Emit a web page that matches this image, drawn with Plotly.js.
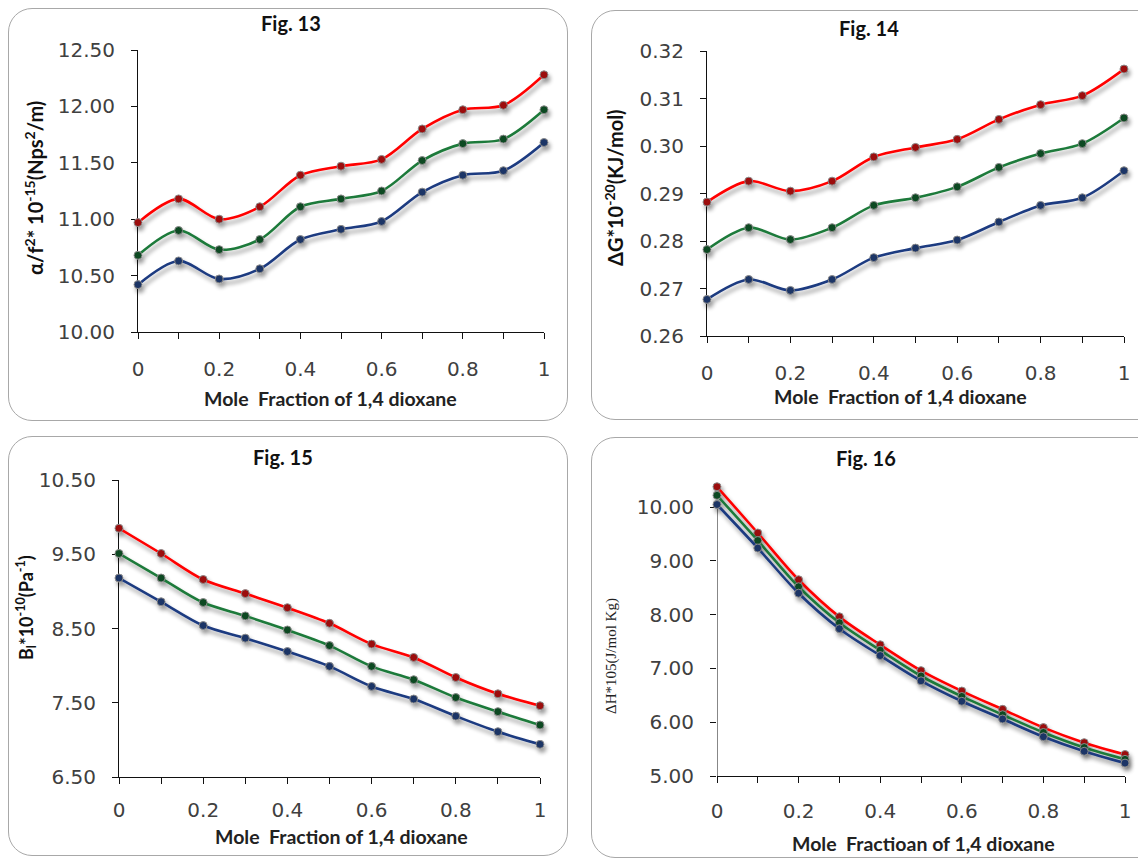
<!DOCTYPE html>
<html>
<head>
<meta charset="utf-8">
<script src="https://cdn.plot.ly/plotly-3.0.1.min.js"></script>
<style>
  html, body { margin:0; padding:0; background:#fff; width:1138px; height:859px; overflow:hidden; }
  .panel { position:absolute; border:1.5px solid #a8a8a8; border-radius:24px; box-sizing:border-box; background:#fff; }
  #plot { position:absolute; left:0; top:0; width:1138px; height:859px; }
  #plot .scatterlayer .trace { filter: url(#sh); }
</style>
</head>
<body>
<svg width="0" height="0" style="position:absolute">
  <defs>
    <filter id="sh" x="-5%" y="-10%" width="115%" height="140%">
      <feGaussianBlur in="SourceAlpha" stdDeviation="2.2"/>
      <feOffset dx="2" dy="4" result="o"/>
      <feComponentTransfer><feFuncA type="linear" slope="0.4"/></feComponentTransfer>
      <feMerge><feMergeNode/><feMergeNode in="SourceGraphic"/></feMerge>
    </filter>
  </defs>
</svg>
<div class="panel" style="left:8px;top:8px;width:560px;height:413px;"></div>
<div class="panel" style="left:591px;top:10px;width:580px;height:410px;"></div>
<div class="panel" style="left:8px;top:436px;width:560px;height:420px;"></div>
<div class="panel" style="left:591px;top:437px;width:580px;height:421px;"></div>
<div id="plot"></div>
<script>
// ---- data ----
const moleFraction = [0, 0.1, 0.2, 0.3, 0.4, 0.5, 0.6, 0.7, 0.8, 0.9, 1];

// Fig. 13  alpha/f^2 * 10^-15
const fig13Red   = [10.97, 11.18, 11.00, 11.11, 11.39, 11.47, 11.53, 11.80, 11.97, 12.01, 12.28];
const fig13Green = [10.68, 10.90, 10.73, 10.82, 11.11, 11.18, 11.25, 11.52, 11.67, 11.71, 11.97];
const fig13Blue  = [10.42, 10.63, 10.47, 10.56, 10.82, 10.91, 10.98, 11.24, 11.39, 11.43, 11.68];

// Fig. 14  dG * 10^-20
const fig14Red   = [0.2882, 0.2926, 0.2905, 0.2926, 0.2977, 0.2997, 0.3014, 0.3056, 0.3087, 0.3106, 0.3162];
const fig14Green = [0.2782, 0.2828, 0.2803, 0.2828, 0.2875, 0.2891, 0.2914, 0.2955, 0.2984, 0.3005, 0.3059];
const fig14Blue  = [0.2677, 0.2719, 0.2696, 0.2719, 0.2765, 0.2785, 0.2802, 0.2840, 0.2875, 0.2891, 0.2948];

// Fig. 15  B * 10^-10
const fig15Red   = [9.85, 9.51, 9.16, 8.97, 8.78, 8.57, 8.29, 8.11, 7.84, 7.62, 7.46];
const fig15Green = [9.51, 9.18, 8.85, 8.67, 8.48, 8.27, 7.99, 7.81, 7.57, 7.38, 7.20];
const fig15Blue  = [9.18, 8.86, 8.54, 8.37, 8.19, 7.99, 7.72, 7.55, 7.32, 7.11, 6.94];

// Fig. 16  dH * 10^5
const fig16Red   = [10.38, 9.52, 8.65, 7.96, 7.44, 6.96, 6.58, 6.24, 5.90, 5.62, 5.40];
const fig16Green = [10.22, 9.38, 8.52, 7.85, 7.34, 6.86, 6.48, 6.14, 5.81, 5.53, 5.31];
const fig16Blue  = [10.05, 9.24, 8.40, 7.74, 7.24, 6.77, 6.39, 6.06, 5.73, 5.46, 5.24];

const xTickVals = [0, 0.2, 0.4, 0.6, 0.8, 1];
const xTickText = ['0', '0.2', '0.4', '0.6', '0.8', '1'];
const fig13Ticks = [10.00, 10.50, 11.00, 11.50, 12.00, 12.50];
const fig14Ticks = [0.26, 0.27, 0.28, 0.29, 0.30, 0.31, 0.32];
const fig15Ticks = [6.50, 7.50, 8.50, 9.50, 10.50];
const fig16Ticks = [5.00, 6.00, 7.00, 8.00, 9.00, 10.00];

// ---- styling ----
const W = 1138, H = 859;
const px = (x) => x / W;
const py = (y) => 1 - y / H;

const styles = {
  red:   {line:'#ff0000', marker:'#9c0a0a'},
  green: {line:'#1f7a3a', marker:'#0f4a22'},
  blue:  {line:'#1c3a80', marker:'#1d3566'}
};

function series(y, c, n) {
  return {
    x: moleFraction, y: y, xaxis: 'x' + n, yaxis: 'y' + n,
    type: 'scatter', mode: 'lines+markers', cliponaxis: false, showlegend: false,
    line: {color: styles[c].line, width: 2.6, shape: 'spline', smoothing: 0.9},
    marker: {color: styles[c].marker, size: 8, line: {color: '#8a8a8a', width: 1}},
    hoverinfo: 'x+y'
  };
}

const data = [
  series(fig13Red, 'red', ''), series(fig13Green, 'green', ''), series(fig13Blue, 'blue', ''),
  series(fig14Red, 'red', 2), series(fig14Green, 'green', 2), series(fig14Blue, 'blue', 2),
  series(fig15Red, 'red', 3), series(fig15Green, 'green', 3), series(fig15Blue, 'blue', 3),
  series(fig16Red, 'red', 4), series(fig16Green, 'green', 4), series(fig16Blue, 'blue', 4)
];

const tickFont = {family: 'DejaVu Sans, Verdana, sans-serif', size: 20, color: '#404040'};

function xAxis(domain, anchor, standoff) {
  return {
    domain: domain, anchor: anchor, range: [0, 1],
    tickvals: xTickVals, ticktext: xTickText,
    showgrid: false, zeroline: false, showline: true, linecolor: '#111', linewidth: 1,
    ticks: 'outside', ticklen: 6, tickcolor: '#111', tickwidth: 1,
    minor: {dtick: 0.1, tick0: 0, ticks: 'outside', ticklen: 6, tickcolor: '#111', tickwidth: 1, showgrid: false},
    tickfont: tickFont, ticklabelstandoff: standoff, layer: 'below traces', fixedrange: true
  };
}
function yAxis(domain, anchor, range, tickvals, showline) {
  return {
    domain: domain, anchor: anchor, range: range,
    tickvals: tickvals, tickformat: '.2f',
    showgrid: false, zeroline: false, showline: showline, linecolor: '#111', linewidth: 1,
    ticks: 'outside', ticklen: 6, tickcolor: '#111', tickwidth: 1,
    tickfont: tickFont, ticklabelstandoff: 12, layer: 'below traces', fixedrange: true
  };
}

const titleFont = {family: 'Lato, Open Sans, sans-serif', size: 20, color: '#111', weight: 'bold'};
const xtFont = {family: 'Lato, Open Sans, sans-serif', size: 19.5, color: '#222', weight: 'bold'};

function ann(text, x, y, font, angle) {
  return {text: text, x: px(x), y: py(y), xref: 'paper', yref: 'paper',
          xanchor: 'center', yanchor: 'middle', showarrow: false, font: font, textangle: angle || 0};
}

const layout = {
  width: W, height: H,
  margin: {l: 0, r: 0, t: 0, b: 0},
  paper_bgcolor: 'rgba(0,0,0,0)', plot_bgcolor: 'rgba(0,0,0,0)',
  showlegend: false,
  xaxis:  xAxis([px(138), px(544)], 'y', 13),
  yaxis:  yAxis([py(332), py(50)], 'x', [10, 12.5], fig13Ticks, true),
  xaxis2: xAxis([px(707), px(1124)], 'y2', 13),
  yaxis2: yAxis([py(336), py(51)], 'x2', [0.26, 0.32], fig14Ticks, true),
  xaxis3: xAxis([px(119), px(540)], 'y3', 9),
  yaxis3: yAxis([py(777), py(480)], 'x3', [6.5, 10.5], fig15Ticks, true),
  xaxis4: xAxis([px(717), px(1125)], 'y4', 11),
  yaxis4: yAxis([py(776), py(483)], 'x4', [5, 10.45], fig16Ticks, false),
  shapes: [
    {type: 'line', xref: 'x4', yref: 'y4', x0: 0, x1: 0, y0: 5, y1: 10.08,
     line: {color: '#111', width: 1}, layer: 'below'}
  ],
  annotations: [
    ann('Fig. 13', 291, 23, titleFont),
    ann('Fig. 14', 869, 28, titleFont),
    ann('Fig. 15', 283, 457, titleFont),
    ann('Fig. 16', 866, 458, titleFont),
    ann('Mole\u00a0 Fraction of 1,4 dioxane', 330, 398, xtFont),
    ann('Mole\u00a0 Fraction of 1,4 dioxane', 900, 396, xtFont),
    ann('Mole\u00a0 Fraction of 1,4 dioxane', 341, 836, xtFont),
    ann('Mole\u00a0 Fractioan of 1,4 dioxane', 923, 843, xtFont),
    ann('α/f<sup>2</sup>* 10<sup>-15</sup>(Nps<sup>2</sup>/m)', 34, 188, {family: 'Lato, sans-serif', size: 20, color: '#111', weight: 'bold'}, -90),
    ann('ΔG*10<sup>-20</sup>(KJ/mol)', 614, 188, {family: 'Lato, sans-serif', size: 20, color: '#111', weight: 'bold'}, -90),
    ann('B<sub>l</sub>*10<sup>-10</sup>(Pa<sup>-1</sup>)', 26, 608, {family: 'Lato, sans-serif', size: 18, color: '#111', weight: 'bold'}, -90),
    ann('ΔH*105(J/mol Kg)', 611, 656, {family: 'Liberation Serif, serif', size: 15, color: '#222'}, -90)
  ]
};

Plotly.newPlot('plot', data, layout, {displayModeBar: false, staticPlot: true});
</script>
</body>
</html>
